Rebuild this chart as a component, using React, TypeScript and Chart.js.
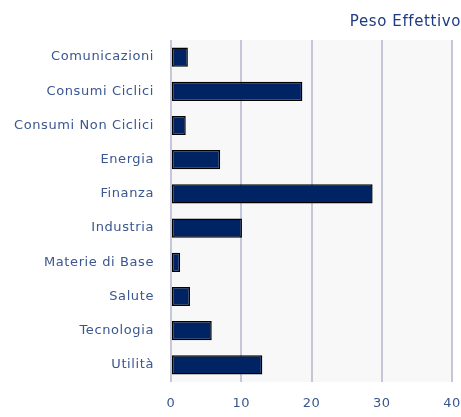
import React, { useEffect, useRef } from "react";
import { Chart, registerables } from "chart.js";

Chart.register(...registerables);

const categories = [
  "Comunicazioni",
  "Consumi Ciclici",
  "Consumi Non Ciclici",
  "Energia",
  "Finanza",
  "Industria",
  "Materie di Base",
  "Salute",
  "Tecnologia",
  "Utilità",
];
const values = [2.4, 18.7, 2.1, 7.0, 28.7, 10.1, 1.3, 2.7, 5.8, 13.0];
const xTicks = [0, 10, 20, 30, 40];
const title = "Peso Effettivo";

const spacing = "0.6px";

const plotBg = {
  id: "plotBg",
  beforeLayout(chart: any) {
    chart.ctx.letterSpacing = spacing;
  },
  beforeDraw(chart: any) {
    const { ctx, chartArea } = chart;
    ctx.letterSpacing = spacing;
    ctx.save();
    ctx.fillStyle = "#f8f8f8";
    ctx.fillRect(chartArea.left, chartArea.top, chartArea.right - chartArea.left, chartArea.bottom - chartArea.top);
    ctx.restore();
  },
};

export default function App() {
  const ref = useRef<HTMLCanvasElement | null>(null);
  useEffect(() => {
    document.body.style.margin = "0";
    const canvas = ref.current!;
    const chart = new Chart(canvas, {
      type: "bar",
      data: {
        labels: categories,
        datasets: [
          {
            data: values,
            backgroundColor: "#002363",
            borderColor: "#000000",
            borderWidth: 1.5,
            borderSkipped: false,
            barPercentage: 0.56,
            categoryPercentage: 1,
          },
        ],
      },
      options: {
        indexAxis: "y",
        animation: false,
        responsive: false,
        maintainAspectRatio: false,
        layout: { padding: 0 },
        plugins: {
          legend: { display: false },
          tooltip: { enabled: false },
          title: {
            display: true,
            text: title,
            align: "end",
            color: "#1f3a80",
            font: { family: "DejaVu Sans", size: 15, weight: "normal" },
            padding: { top: 13, bottom: 9 },
          },
        },
        scales: {
          x: {
            min: 0,
            max: 40,
            afterBuildTicks: (axis: any) => {
              axis.ticks = xTicks.map((v) => ({ value: v }));
            },
            afterFit: (axis: any) => {
              axis.height = 35;
              axis.paddingRight = 9;
              axis.paddingLeft = 0;
            },
            grid: { color: "#c6c6da", lineWidth: 2, drawTicks: false },
            border: { display: false },
            ticks: {
              color: "#3b5690",
              padding: 14,
              maxRotation: 0,
              font: { family: "DejaVu Sans", size: 13 },
            },
          },
          y: {
            grid: { display: false, drawTicks: false },
            border: { display: false },
            afterFit: (axis: any) => {
              axis.width = 171;
            },
            ticks: {
              color: "#3b5690",
              padding: 17,
              font: { family: "DejaVu Sans", size: 13 },
            },
          },
        },
      },
      plugins: [plotBg],
    });
    return () => chart.destroy();
  }, []);
  return (
    <div style={{ width: 461, height: 417 }}>
      <canvas ref={ref} width={461} height={417} style={{ display: "block" }} />
    </div>
  );
}
